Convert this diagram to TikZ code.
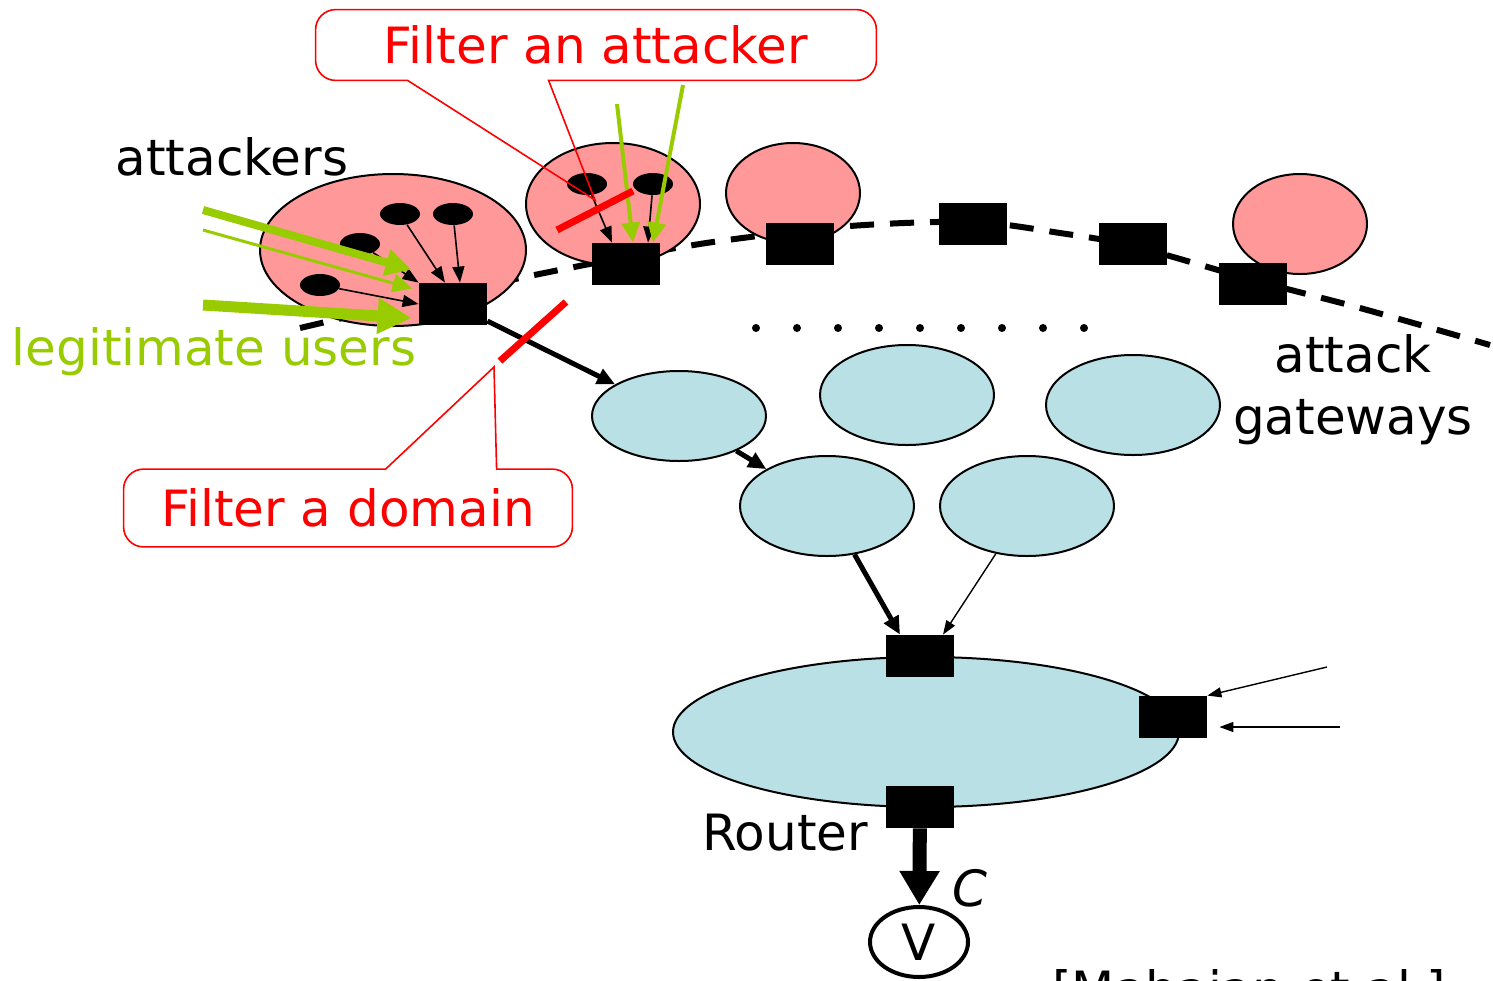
\documentclass[tikz,border=0pt]{standalone}
\usepackage{fontspec}
\setmainfont{DejaVu Sans}
\usetikzlibrary{arrows.meta,shapes.geometric}
\definecolor{AttackPink}{RGB}{255,153,153}
\definecolor{TransitBlue}{RGB}{185,224,228}
\definecolor{LegitGreen}{RGB}{153,204,0}
\tikzset{
  attackdom/.style={ellipse,draw,fill=AttackPink,line width=1pt,inner sep=0pt},
  transitdom/.style={ellipse,draw,fill=TransitBlue,line width=1pt,inner sep=0pt},
  gateway/.style={rectangle,fill=black,minimum width=34pt,minimum height=21pt,inner sep=0pt},
  host/.style={ellipse,fill=black,minimum width=20pt,minimum height=11pt,inner sep=0pt},
  bigtext/.style={font=\fontsize{25}{31}\selectfont,inner sep=0pt},
  callout/.style={draw=red,line width=0.8pt},
  calloutbox/.style={bigtext,text=red},
  slash/.style={red,line width=3.5pt},
  hostarrow/.style={-{Triangle[length=8pt,width=6pt]},line width=0.8pt},
  flowarrow/.style={-{Triangle[length=9pt,width=8pt]},line width=2.5pt},
  thinarrow/.style={-{Triangle[length=7pt,width=5pt]},line width=0.7pt},
  legit/.style={LegitGreen,line width=#1},
  gwline/.style={line width=3pt,dash pattern=on 12pt off 8pt}
}
\begin{document}
\begin{tikzpicture}[x=0.5pt,y=-0.5pt]
  \useasboundingbox (0,0) rectangle (1493,980);
  % the ring of attack gateways
  \draw[gwline] plot[smooth] coordinates {(300,328) (420,300) (520,278) (626,257)
    (720,241) (850,226) (973,222) (1060,233) (1133,246) (1253,280) (1360,308) (1490,345)};
  % attacker domains
  \node[attackdom,minimum width=133pt,minimum height=76pt] (atkA) at (393,250) {};
  \node[attackdom,minimum width=87pt,minimum height=61pt] (atkB) at (613,204) {};
  \node[attackdom,minimum width=67pt,minimum height=50pt] (atkC) at (793,193) {};
  \node[attackdom,minimum width=67pt,minimum height=50pt] (atkD) at (1300,224) {};
  % transit domains
  \node[transitdom,minimum width=87pt,minimum height=45pt] (trA) at (679,416) {};
  \node[transitdom,minimum width=87pt,minimum height=50pt] (trB) at (907,395) {};
  \node[transitdom,minimum width=87pt,minimum height=50pt] (trC) at (1133,405) {};
  \node[transitdom,minimum width=87pt,minimum height=50pt] (trD) at (827,506) {};
  \node[transitdom,minimum width=87pt,minimum height=50pt] (trE) at (1027,506) {};
  \node[transitdom,minimum width=253pt,minimum height=75pt] (router) at (926,732) {};
  % hosts
  \node[host] (hA1) at (400,214) {};
  \node[host] (hA2) at (453,214) {};
  \node[host] (hA3) at (360,244) {};
  \node[host] (hA4) at (320,285) {};
  \node[host] (hB1) at (587,184) {};
  \node[host] (hB2) at (653,184) {};
  % gateways
  \node[gateway] (gwA) at (453,304) {};
  \node[gateway] (gwB) at (626,264) {};
  \node[gateway] (gwC) at (800,244) {};
  \node[gateway] (gwD) at (973,224) {};
  \node[gateway] (gwE) at (1133,244) {};
  \node[gateway] (gwF) at (1253,284) {};
  \node[gateway] (gwIn) at (920,656) {};
  \node[gateway] (gwSide) at (1173,717) {};
  \node[gateway] (gwOut) at (920,807) {};
  % dots
  \foreach \i in {0,...,8}
    \fill (756+41*\i,328) circle (2pt);
  % attack traffic
  \draw[hostarrow] (hA1) -- ([xshift=-4pt]gwA.north);
  \draw[hostarrow] (hA2) -- ([xshift=3.5pt]gwA.north);
  \draw[hostarrow] (hA3) -- (gwA.north west);
  \draw[hostarrow] (hA4) -- (gwA.west);
  \draw[hostarrow] (hB1) -- ([xshift=-7pt]gwB.north);
  \draw[hostarrow] (hB2) -- ([xshift=11pt]gwB.north);
  \draw[flowarrow] (gwA) -- (trA);
  \draw[flowarrow] (trA) -- (trD);
  \draw[flowarrow] (trD) -- ([shift={(-20,0)}]gwIn.north);
  \draw[thinarrow] (trE) -- ([shift={(23,0)}]gwIn.north);
  \coordinate (inA) at (1327,667);
  \coordinate (inB) at (1340,727);
  \draw[thinarrow] (inA) -- (gwSide.north east);
  \draw[thinarrow] (inB) -- ([shift={(12,10)}]gwSide.east);
  \node[draw,ellipse,line width=2pt,minimum width=49pt,minimum height=35pt,
    inner sep=0pt,bigtext] (victim) at (919,942) {V};
  \draw[-{Triangle[length=17pt,width=19pt]},line width=7pt] (gwOut) -- (victim);
  % legitimate traffic
  \coordinate (lgA) at (203,210);
  \coordinate (lgB) at (203,230);
  \coordinate (lgC) at (203,305);
  \coordinate (lgD) at (617,104);
  \coordinate (lgE) at (683,85);
  \draw[legit=4pt,-{Triangle[length=13pt,width=13pt]}] (lgA) -- ([shift={(-7,-13)}]gwA.north west);
  \draw[legit=1.5pt,-{Triangle[length=10pt,width=9pt]}] (lgB) -- ([shift={(-6,6)}]gwA.north west);
  \draw[legit=5.5pt,-{Triangle[length=17pt,width=17pt]}] (lgC) -- ([shift={(-7,14)}]gwA.west);
  \draw[legit=2pt,-{Triangle[length=10pt,width=9pt]}] (lgD) -- ([xshift=3.5pt]gwB.north);
  \draw[legit=2pt,-{Triangle[length=10pt,width=9pt]}] (lgE) -- ([xshift=13.5pt]gwB.north);
  % filters
  \draw[slash] (557,230) -- (633,191);
  \draw[slash] (500,361) -- (566,302);
  \coordinate (atkTip) at (595,200);
  \coordinate (domTip) at (494,367);
  \node[calloutbox,minimum width=280pt,minimum height=35pt] (fatk) at (596,45) {Filter an attacker};
  \draw[callout] ([xshift=116.5pt]fatk.south west) [rounded corners=10pt] -- (fatk.south east)
    -- (fatk.north east) -- (fatk.north west) -- (fatk.south west) [sharp corners]
    -- ([xshift=46pt]fatk.south west) -- (atkTip) -- cycle;
  \node[calloutbox,minimum width=224pt,minimum height=38.5pt] (fdom) at (348,508) {Filter a domain};
  \draw[callout] ([xshift=186.5pt]fdom.north west) [rounded corners=10pt] -- (fdom.north east)
    -- (fdom.south east) -- (fdom.south west) -- (fdom.north west) [sharp corners]
    -- ([xshift=131pt]fdom.north west) -- (domTip) -- cycle;
  % labels
  \node[bigtext] (atklabel) at (232,157) {attackers};
  \node[bigtext,text=LegitGreen] (legitlabel) at (214,352) {legitimate users};
  \node[bigtext,align=center] (gwlabel) at (1353,390) {attack\\gateways};
  \node[bigtext] (routerlabel) at (785,833) {Router};
  \node[bigtext,font=\fontsize{25}{31}\selectfont\itshape] (caplabel) at (970,888) {C};
  \node[bigtext,anchor=north west] (cite) at (1052,969) {[Mahajan et al.]};
\end{tikzpicture}
\end{document}
